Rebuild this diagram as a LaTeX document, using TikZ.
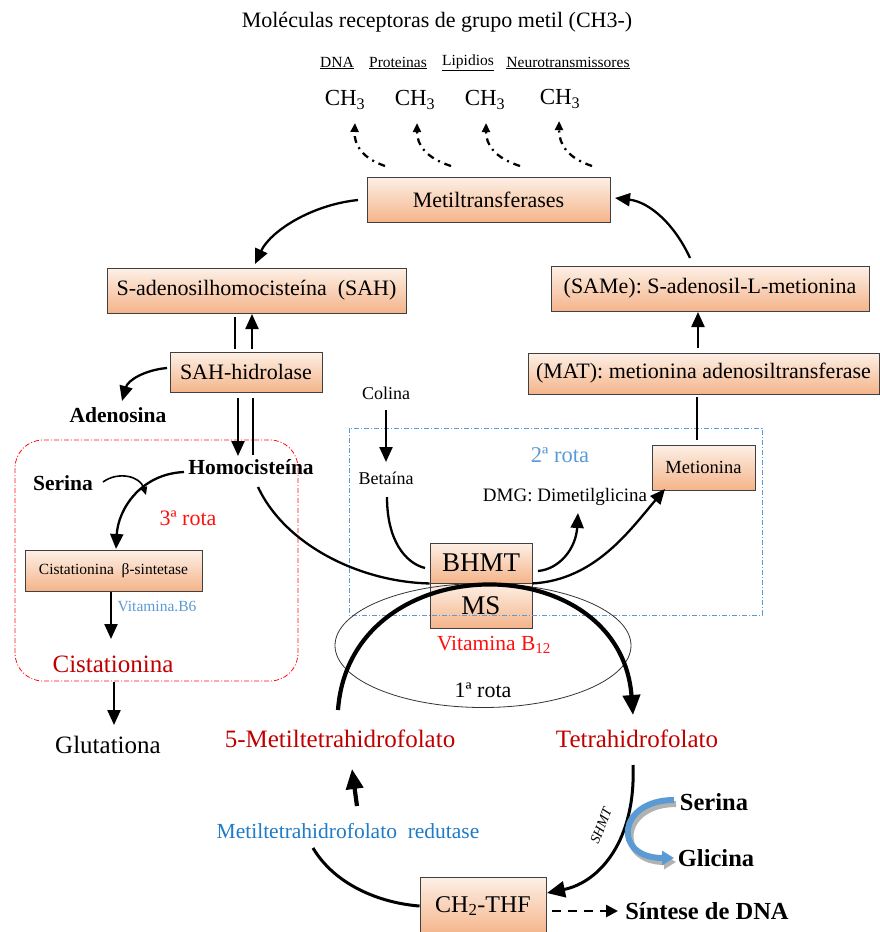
\documentclass[tikz,border=0pt]{standalone}
\usepackage{fontspec}
\setmainfont{Liberation Serif}
\usetikzlibrary{arrows.meta}
\definecolor{peachtop}{HTML}{FDF0E6}
\definecolor{peachbot}{HTML}{F4B48A}
\definecolor{darkred}{HTML}{C00000}
\definecolor{brightred}{HTML}{FF1010}
\definecolor{lightblue}{HTML}{5B9BD5}
\definecolor{midblue}{HTML}{1F7BC8}
\newcommand{\fs}[1]{\fontsize{#1}{#1}\selectfont}
\tikzset{
  pbox/.style={draw=black!75, line width=0.9pt, top color=peachtop, bottom color=peachbot, inner sep=0pt, font=\fs{22}},
  lbl/.style={inner sep=0pt, font=\fs{20}},
  arr/.style={line width=2.3pt, -{Triangle[width=13pt,length=15pt]}},
  plain/.style={line width=2.3pt},
  ddarr/.style={line width=2.3pt, dash pattern=on 7pt off 5pt on 2pt off 5pt, -{Triangle[width=8pt,length=9pt]}},
  bigarr/.style={line width=4.2pt, -{Triangle[width=17pt,length=20pt]}},
}
\begin{document}
\begin{tikzpicture}[x=1pt,y=-1pt]
\useasboundingbox (0,0) rectangle (880,932);

% title
\node[lbl, font=\fs{22}] (title) at (437,22) {Moléculas receptoras de grupo metil (CH3-)};
\node[lbl, font=\fs{15.5}] (dna) at (337,63) {\underline{DNA}};
\node[lbl, font=\fs{15.5}] (prot) at (398,63) {\underline{Proteinas}};
\node[lbl, font=\fs{15.5}] (lip) at (468,63) {\underline{Lipidios}};
\node[lbl, font=\fs{15.5}] (neuro) at (568,63) {\underline{Neurotransmissores}};
\node[lbl, font=\fs{23}] (c1) at (345,100) {CH\textsubscript{3}};
\node[lbl, font=\fs{23}] (c2) at (415,100) {CH\textsubscript{3}};
\node[lbl, font=\fs{23}] (c3) at (485,100) {CH\textsubscript{3}};
\node[lbl, font=\fs{23}] (c4) at (560,99) {CH\textsubscript{3}};

% boxes
\node[pbox, minimum width=243, minimum height=45] (meti) at (488.5,199.5) {Metiltransferases};
\node[pbox, minimum width=299, minimum height=45] (sah) at (256.5,290.5) {S-adenosilhomocisteína\ \ (SAH)};
\node[pbox, minimum width=318, minimum height=45] (same) at (710,288.5) {(SAMe):\ S-adenosil-L-metionina};
\node[pbox, minimum width=351, minimum height=41] (mat) at (703.5,373.5) {(MAT):\ metionina\ adenosiltransferase};
\node[pbox, minimum width=152, minimum height=40] (sahh) at (246,372) {SAH-hidrolase};
\node[pbox, minimum width=103, minimum height=45, font=\fs{18.5}] (metio) at (703.5,467.5) {Metionina};
\node[pbox, minimum width=102, minimum height=40, font=\fs{27}] (bhmt) at (481,563) {BHMT};
\node[pbox, minimum width=102, minimum height=45, font=\fs{27}] (ms) at (481,605.5) {MS};
\node[pbox, minimum width=177, minimum height=41, font=\fs{15.5}] (cbs) at (113.5,570.5) {Cistationina\ \ β-sintetase};
\node[pbox, minimum width=126, minimum height=58, font=\fs{24}] (ch2) at (483,906) {CH\textsubscript{2}-THF};

% dashed frames
\draw[brightred, line width=0.8pt, dash pattern=on 5pt off 2pt on 1pt off 2pt, rounded corners=28pt] (15,440) rectangle (298,681);
\draw[lightblue, line width=0.8pt, dash pattern=on 5pt off 2pt on 1pt off 2pt] (349,428) rectangle (762,615);

% ellipse
\draw[black!80, line width=0.8pt] (483,645.5) ellipse [x radius=148, y radius=62];

% labels
\node[lbl, font=\fs{18}] (colina) at (386,393) {Colina};
\node[lbl, font=\fs{18}] (betaina) at (386,478) {Betaína};
\node[lbl, font=\fs{19}] (dmg) at (565,497) {DMG: Dimetilglicina};
\node[lbl, font=\fs{22.5}, text=lightblue] (rota2) at (560,455) {2ª rota};
\node[lbl, font=\fs{21.5}, text=brightred] (b12) at (494,645) {Vitamina B\textsubscript{12}};
\node[lbl, font=\fs{22}] (rota1) at (483,690) {1ª rota};
\node[lbl, font=\fs{25}, text=darkred] (mthf) at (340,739) {5-Metiltetrahidrofolato};
\node[lbl, font=\fs{25}, text=darkred] (thf) at (637,739) {Tetrahidrofolato};
\node[lbl, font=\fs{21.5}, text=midblue] (mthfr) at (348,831) {Metiltetrahidrofolato\ \ redutase};
\node[lbl, font=\bfseries\fs{24.5}] (serina2) at (714,802) {Serina};
\node[lbl, font=\bfseries\fs{24.5}] (glicina) at (716,858) {Glicina};
\node[lbl, font=\bfseries\fs{24.5}] (sintese) at (707,911) {Síntese de DNA};
\node[lbl, font=\itshape\fs{14}, rotate=68] (shmt) at (601,826) {SHMT};
\node[lbl, font=\bfseries\fs{21.5}] (adeno) at (118,415) {Adenosina};
\node[lbl, font=\bfseries\fs{21.5}] (homo) at (251,467) {Homocisteína};
\node[lbl, font=\bfseries\fs{21.5}] (serina1) at (63,483) {Serina};
\node[lbl, font=\fs{22}, text=brightred] (rota3) at (188,518) {3ª rota};
\node[lbl, font=\fs{15.5}, text=lightblue] (b6) at (157,606) {Vitamina.B6};
\node[lbl, font=\fs{25}, text=darkred] (cist) at (113,664) {Cistationina};
\node[lbl, font=\fs{25}] (glut) at (108,745) {Glutationa};

% helper coordinates
\coordinate (d1s) at (385,166); \coordinate (d2s) at (451,166);
\coordinate (d3s) at (520,166); \coordinate (d4s) at (592,166);
\coordinate (d1e) at (355,123); \coordinate (d2e) at (417,123);
\coordinate (d3e) at (486,123); \coordinate (d4e) at (559,121);

% dash-dot arrows to CH3
\draw[ddarr] (d1s) .. controls (362,158) and (354,145) .. (d1e);
\draw[ddarr] (d2s) .. controls (426,158) and (417,145) .. (d2e);
\draw[ddarr] (d3s) .. controls (495,158) and (486,145) .. (d3e);
\draw[ddarr] (d4s) .. controls (568,158) and (559,145) .. (d4e);

% cycle arrows
\draw[arr] (358,200) .. controls (310,205) and (270,232) .. (255,264);
\draw[arr] (690,258) .. controls (675,225) and (650,202) .. (615,198);
\draw[arr] (698,348) -- (698,312);
\draw[plain] (697,440) -- (697,397);

% SAH <-> SAH-hidrolase
\draw[plain] (235,317) -- (235,349);
\draw[arr] (252,349) -- (252,314);
\draw[arr] (238,398) -- (238,456);
\draw[plain] (253,398) -- (253,455);
\draw[arr] (167,368) .. controls (145,370) and (128,380) .. (122,401);

% 3rd route
\draw[arr] (184,472) .. controls (140,474) and (118,510) .. (116,549);
\draw[line width=1.6pt, -{Triangle[width=7pt,length=8pt]}] (103,482) .. controls (118,471) and (140,476) .. (146,495);
\draw[arr] (111,592) -- (111,639);
\draw[arr] (114,682) -- (114,725);

% 2nd route
\draw[arr] (386,410) -- (386,462);
\draw[plain] (387,497) .. controls (387,540) and (405,563) .. (425,568);
\draw[arr] (538,571) .. controls (560,569) and (576,548) .. (578,513);
\draw[plain] (258,487) .. controls (285,545) and (360,582) .. (bhmt.south west);
\draw[arr] (bhmt.south east) .. controls (595,580) and (630,530) .. (665,489);

% 1st route big arc
\draw[bigarr] (338,710) .. controls (350,545) and (620,545) .. (633,715);
\draw[bigarr] (357,806) -- (352,769);
\draw[line width=3pt] (313,848) .. controls (335,885) and (380,903) .. (ch2.west);
\draw[line width=3pt, -{Triangle[width=16pt,length=18pt]}] (633,765) .. controls (636,840) and (600,882) .. (547,893);

% serina -> glicina blue arrow
\draw[black!30, line width=6pt, -{Triangle[width=14pt,length=12pt]}] (676,804) .. controls (620,804) and (615,862) .. (676,862);
\draw[lightblue, line width=6pt, -{Triangle[width=14pt,length=12pt]}] (674,800) .. controls (617,800) and (612,858) .. (674,858);

% dashed to DNA synthesis
\draw[line width=2.6pt, dash pattern=on 9pt off 7pt, -{Triangle[width=12pt,length=12pt]}] (552,911) -- (618,911);
\end{tikzpicture}
\end{document}
